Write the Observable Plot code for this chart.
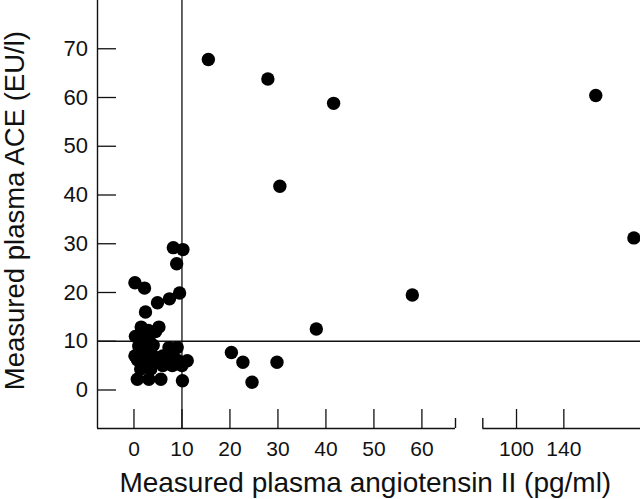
<!DOCTYPE html>
<html>
<head>
<meta charset="utf-8">
<script src="https://cdn.jsdelivr.net/npm/d3@7"></script>
<script src="https://cdn.jsdelivr.net/npm/@observablehq/plot@0.6"></script>
<style>
  html, body { margin: 0; padding: 0; background: #fff; }
  #chart svg { display: block; }
</style>
</head>
<body>
<div id="chart"></div>
<script>
// Data: measured plasma angiotensin II (pg/ml) vs measured plasma ACE (EU/l)
const angII = [
  15.5, 27.9, 41.6, 30.4, 38.0, 20.3, 22.7, 29.8, 24.6, 167.0, 199.2, 58.0,
  0.2, 2.2, 2.4, 4.9, 7.4, 9.5, 8.2, 10.2, 8.9,
  1.5, 5.2, 3.0, 4.5, 0.3, 1.6, 2.0, 3.2, 1.0, 7.3, 9.0, 4.0,
  2.0, 3.2, 0.2, 4.0, 6.0, 8.2, 0.7, 2.2, 5.0, 7.0, 9.2, 11.1,
  3.0, 6.0, 8.0, 10.0, 1.4, 3.5, 0.7, 3.1, 5.6, 10.1
];
const ace = [
  67.8, 63.8, 58.8, 41.8, 12.5, 7.7, 5.7, 5.7, 1.6, 60.4, 31.2, 19.5,
  22.0, 20.9, 16.0, 17.9, 18.7, 19.9, 29.2, 28.8, 25.9,
  12.9, 12.9, 12.2, 12.0, 11.0, 11.0, 10.0, 10.0, 9.0, 8.7, 8.7, 9.2,
  8.0, 8.0, 7.0, 7.0, 7.0, 7.0, 6.2, 6.0, 6.0, 6.0, 6.0, 6.0,
  5.0, 5.0, 5.0, 5.0, 4.3, 4.3, 2.2, 2.2, 2.2, 1.9
];
const xTicks = [0, 10, 20, 30, 40, 50, 60, 100, 140];
const xTickLabels = ["0", "10", "20", "30", "40", "50", "60", "100", "140"];
const yTicks = [0, 10, 20, 30, 40, 50, 60, 70];
const xDomain = [-7.6, 67, 71.5, 204.8];   // broken axis: two segments
const yDomain = [-7.9, 79.9];
const refX = 10;   // vertical cut-off line
const refY = 10;   // horizontal cut-off line

const points = angII.map((a, i) => ({a, c: ace[i]}));
const font = "'Liberation Sans', Arial, Helvetica, sans-serif";
const ink = "#111";

const pxPerY = 428 / (yDomain[1] - yDomain[0]);
const xTickLen = 19 / pxPerY;
const yTickLen = 19 / 4.8;
const capLen = 10 / pxPerY;

const chart = Plot.plot({
  width: 640,
  height: 499,
  marginLeft: 97,
  marginRight: 0,
  marginTop: 0,
  marginBottom: 71,
  style: {fontFamily: font, background: "#fff", color: ink, overflow: "visible"},
  x: {type: "linear", domain: xDomain, range: [97, 455, 482.3, 640], axis: null},
  y: {type: "linear", domain: yDomain, range: [428, 0], axis: null},
  marks: [
    // reference lines
    Plot.ruleX([refX], {y1: yDomain[0], y2: yDomain[1], stroke: ink, strokeWidth: 1.3}),
    Plot.ruleY([refY], {x1: xDomain[0], x2: xDomain[3], stroke: ink, strokeWidth: 1.3}),
    // y axis line
    Plot.ruleX([xDomain[0]], {y1: yDomain[0], y2: yDomain[1], stroke: ink, strokeWidth: 1.4}),
    // broken x axis line
    Plot.ruleY([yDomain[0]], {x1: xDomain[0], x2: xDomain[1], stroke: ink, strokeWidth: 1.4}),
    Plot.ruleY([yDomain[0]], {x1: xDomain[2], x2: xDomain[3], stroke: ink, strokeWidth: 1.4}),
    Plot.ruleX([xDomain[1], xDomain[2]], {y1: yDomain[0], y2: yDomain[0] + capLen, stroke: ink, strokeWidth: 1.4}),
    // inward ticks
    Plot.ruleX(xTicks, {y1: yDomain[0], y2: yDomain[0] + xTickLen, stroke: ink, strokeWidth: 1.3}),
    Plot.ruleY(yTicks, {x1: xDomain[0], x2: xDomain[0] + yTickLen, stroke: ink, strokeWidth: 1.3}),
    // tick labels
    Plot.text(xTicks, {x: d => d, text: (d, i) => xTickLabels[i], frameAnchor: "bottom", textAnchor: "middle", dy: 21, lineAnchor: "middle", fontSize: 21, fill: ink}),
    Plot.text(yTicks, {y: d => d, text: d => String(d), frameAnchor: "left", textAnchor: "end", dx: -9.5, lineAnchor: "middle", fontSize: 22, fill: ink}),
    // axis titles
    Plot.text(["Measured plasma angiotensin II (pg/ml)"], {frameAnchor: "bottom", textAnchor: "middle", x: () => 48.2, dy: 63, lineAnchor: "bottom", fontSize: 28, fill: ink}),
    Plot.text(["Measured plasma ACE (EU/l)"], {frameAnchor: "left", textAnchor: "middle", dx: -82, rotate: -90, y: () => 36.8, lineAnchor: "middle", fontSize: 27.5, fill: ink}),
    // data
    Plot.dot(points, {x: "a", y: "c", r: 6.7, fill: "#000", stroke: "none"})
  ]
});
document.getElementById("chart").appendChild(chart);
</script>
</body>
</html>
